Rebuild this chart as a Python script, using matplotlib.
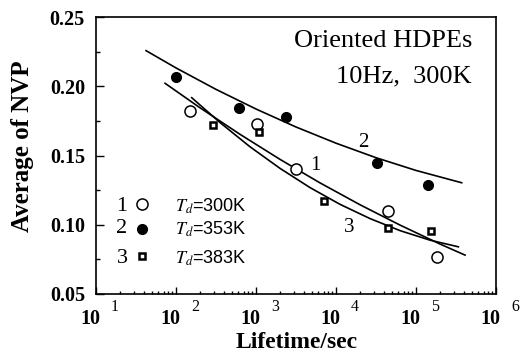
import numpy as np
import matplotlib
matplotlib.use("Agg")
import matplotlib.pyplot as plt
from matplotlib.ticker import FixedLocator, NullFormatter
from matplotlib.transforms import offset_copy

plt.rcParams['font.family'] = ['Liberation Serif', 'DejaVu Serif']
plt.rcParams['mathtext.fontset'] = 'stix'

# measured points (lifetime in s, average NVP)
t_300 = [150, 1020, 3130, 45000, 185000]
nvp_300 = [0.1825, 0.173, 0.140, 0.110, 0.0765]
t_353 = [100, 610, 2350, 32300, 143000]
nvp_353 = [0.207, 0.1846, 0.178, 0.145, 0.129]
t_383 = [293, 1100, 7140, 45000, 154000]
nvp_383 = [0.172, 0.167, 0.117, 0.0975, 0.0955]

# fitted curves
fit1_t = [72.9, 199.5, 631, 1995, 6310, 19950, 63100, 199500, 410000]
fit1_y = [0.2023, 0.1846, 0.1654, 0.1473, 0.1303, 0.1145, 0.0998, 0.0861, 0.0781]
fit2_t = [42.2, 100, 316, 1000, 3162, 10000, 31623, 100000, 372000]
fit2_y = [0.2259, 0.2134, 0.1979, 0.1837, 0.1707, 0.1590, 0.1485, 0.1393, 0.1304]
fit3_t = [157, 355, 841, 1995, 4732, 11220, 26610, 63100, 149600, 338000]
fit3_y = [0.1919, 0.1739, 0.1564, 0.1408, 0.1269, 0.1148, 0.1045, 0.0958, 0.0889, 0.0841]

decades = [1, 2, 3, 4, 5, 6]
yticks = [0.05, 0.10, 0.15, 0.20, 0.25]
legend_labels = ["300K", "353K", "383K"]

fig = plt.figure(figsize=(5.32, 3.59), dpi=100)
ax = fig.add_axes([0.1805, 0.1811, 0.7519, 0.7707])

ax.plot(fit1_t, fit1_y, color='black', lw=1.2)
ax.plot(fit2_t, fit2_y, color='black', lw=1.2)
ax.plot(fit3_t, fit3_y, color='black', lw=1.2)

ax.plot(t_300, nvp_300, 'o', ms=8, mfc='white', mec='black', mew=1.1, ls='none')
ax.plot(t_353, nvp_353, 'o', ms=7, mfc='black', mec='black', ls='none')
ax.plot(t_383, nvp_383, 's', ms=5, mfc='white', mec='black', mew=1.8, ls='none')

ax.set_xscale('log')
ax.set_xlim(10, 1e6)
ax.set_ylim(0.05, 0.25)

ax.set_yticks(yticks)
ax.set_yticklabels(["%.2f" % v for v in yticks], fontweight='bold', fontsize=14.5)
ax.yaxis.set_minor_locator(FixedLocator([0.075, 0.125, 0.175, 0.225]))
ax.xaxis.set_major_locator(FixedLocator([10.0 ** d for d in decades]))
ax.xaxis.set_major_formatter(NullFormatter())
ax.xaxis.set_minor_formatter(NullFormatter())
ax.tick_params(which='both', direction='in', top=False, right=False, width=1.0)
ax.tick_params(axis='y', which='major', length=6, pad=8)
ax.tick_params(axis='y', which='minor', length=3)
ax.tick_params(axis='x', which='major', length=5)
ax.tick_params(axis='x', which='minor', length=2.5)
for s in ax.spines.values():
    s.set_linewidth(1.2)

# x tick labels in the "10  n" style of the original
base = offset_copy(ax.get_xaxis_transform(), fig=fig, x=-6 * 0.72, y=-25.5 * 0.72, units='points')
expo = offset_copy(ax.get_xaxis_transform(), fig=fig, x=19 * 0.72, y=-13 * 0.72, units='points')
for d in decades:
    ax.text(10.0 ** d, 0, "10", transform=base, ha='center', va='center',
            fontsize=14.5, fontweight='bold', clip_on=False)
    ax.text(10.0 ** d, 0, str(d), transform=expo, ha='center', va='center',
            fontsize=11.5, clip_on=False)

ax.set_ylabel("Average of NVP", fontsize=18, fontweight='bold')
ax.yaxis.set_label_coords(-0.155, 0.533)
ax.set_xlabel("Lifetime/sec", fontsize=17, fontweight='bold')
ax.xaxis.set_label_coords(0.501, -0.137)

ax.text(0.94, 0.914, "Oriented HDPEs", transform=ax.transAxes, ha='right', va='center', fontsize=19)
ax.text(0.94, 0.788, "10Hz,  300K", transform=ax.transAxes, ha='right', va='center', fontsize=19)

# curve labels
ax.text(0.5475, 0.466, "1", transform=ax.transAxes, ha='center', va='center', fontsize=15)
ax.text(0.6675, 0.546, "2", transform=ax.transAxes, ha='center', va='center', fontsize=15)
ax.text(0.6325, 0.242, "3", transform=ax.transAxes, ha='center', va='center', fontsize=15)

# legend block
rows_y = [0.318, 0.235, 0.130]
mark_y = [0.325, 0.234, 0.137]
styles = [dict(marker='o', ms=8, mfc='white', mec='black', mew=1.1),
          dict(marker='o', ms=7, mfc='black', mec='black'),
          dict(marker='s', ms=5, mfc='white', mec='black', mew=1.8)]
for i in range(3):
    ax.text(0.065, rows_y[i], str(i + 1), transform=ax.transAxes, ha='center', va='center', fontsize=16)
    ax.plot([0.114], [mark_y[i]], transform=ax.transAxes, ls='none', clip_on=False, **styles[i])
    ax.text(0.1975, rows_y[i], r"$T_d$=" + legend_labels[i], transform=ax.transAxes,
            ha='left', va='center', fontsize=13, family='Liberation Sans')

fig.savefig("out.png", dpi=100)
